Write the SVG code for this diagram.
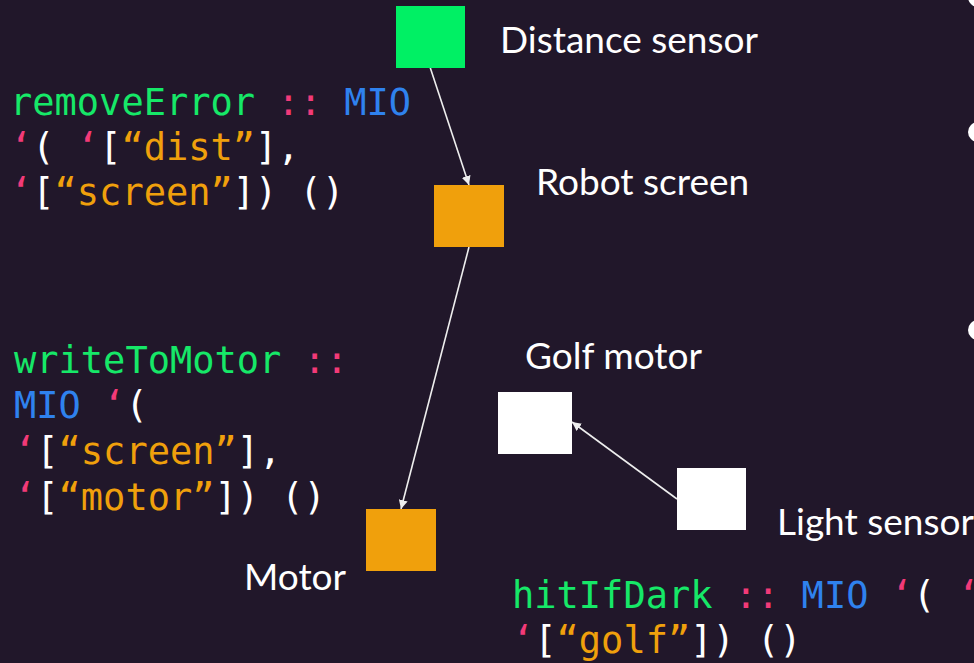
<svg xmlns="http://www.w3.org/2000/svg" width="974" height="663" viewBox="0 0 974 663">
<defs>
<style>
.code{font-family:"DejaVu Sans Mono","Liberation Mono",monospace;font-size:37px;fill:#ffffff}
.g{fill:#16e868}.p{fill:#f23a78}.b{fill:#2f82ee}.o{fill:#f0a00c}
.lbl{font-family:Lato,"Noto Sans",sans-serif;font-size:37px;fill:#ffffff}
.edge{stroke:#eeeeee;stroke-width:1.6;fill:none;marker-end:url(#ah)}
</style>
<marker id="ah" viewBox="0 0 10 10" refX="10" refY="5" markerWidth="9" markerHeight="9" markerUnits="userSpaceOnUse" orient="auto">
<path d="M0,0 L10,5 L0,10 z" fill="#eeeeee"/>
</marker>
</defs>
<rect width="974" height="663" fill="#21172a"/>
<g id="bullets" fill="#ffffff">
<circle cx="978" cy="-3" r="10"/>
<circle cx="978" cy="132" r="10"/>
<circle cx="978" cy="330" r="10"/>
</g>
<g id="code-removeError" class="code">
<text x="10" y="115"><tspan class="g">removeError</tspan> <tspan class="p">::</tspan> <tspan class="b">MIO</tspan></text>
<text x="10" y="160"><tspan class="p">‘</tspan>( <tspan class="p">‘</tspan>[<tspan class="o">“dist”</tspan>],</text>
<text x="10" y="205"><tspan class="p">‘</tspan>[<tspan class="o">“screen”</tspan>]) ()</text>
</g>
<g id="code-writeToMotor" class="code">
<text x="14" y="373"><tspan class="g">writeToMotor</tspan> <tspan class="p">::</tspan></text>
<text x="14" y="418"><tspan class="b">MIO</tspan> <tspan class="p">‘</tspan>(</text>
<text x="14" y="464"><tspan class="p">‘</tspan>[<tspan class="o">“screen”</tspan>],</text>
<text x="14" y="510"><tspan class="p">‘</tspan>[<tspan class="o">“motor”</tspan>]) ()</text>
</g>
<g id="code-hitIfDark" class="code">
<text x="512" y="608"><tspan class="g">hitIfDark</tspan> <tspan class="p">::</tspan> <tspan class="b">MIO</tspan> <tspan class="p">‘</tspan>( <tspan class="p">‘</tspan></text>
<text x="512" y="653"><tspan class="p">‘</tspan>[<tspan class="o">“golf”</tspan>]) ()</text>
</g>
<g id="connectors">
<line class="edge" x1="430" y1="67" x2="469" y2="185"/>
<line class="edge" x1="469" y1="247" x2="401" y2="509"/>
<line class="edge" x1="677" y1="499" x2="572" y2="422"/>
</g>
<g id="node-distance">
<rect x="396" y="6" width="69" height="62" fill="#00f064"/>
<text class="lbl" x="500" y="53">Distance sensor</text>
</g>
<g id="node-robot-screen">
<rect x="434" y="185" width="70" height="62" fill="#f0a00c"/>
<text class="lbl" x="536" y="195">Robot screen</text>
</g>
<g id="node-motor">
<rect x="366" y="509" width="70" height="62" fill="#f0a00c"/>
<text class="lbl" x="244" y="590">Motor</text>
</g>
<g id="node-golf-motor">
<rect x="498" y="392" width="74" height="62" fill="#ffffff"/>
<text class="lbl" x="525" y="369">Golf motor</text>
</g>
<g id="node-light-sensor">
<rect x="677" y="468" width="69" height="62" fill="#ffffff"/>
<text class="lbl" x="777" y="535">Light sensor</text>
</g>
</svg>
